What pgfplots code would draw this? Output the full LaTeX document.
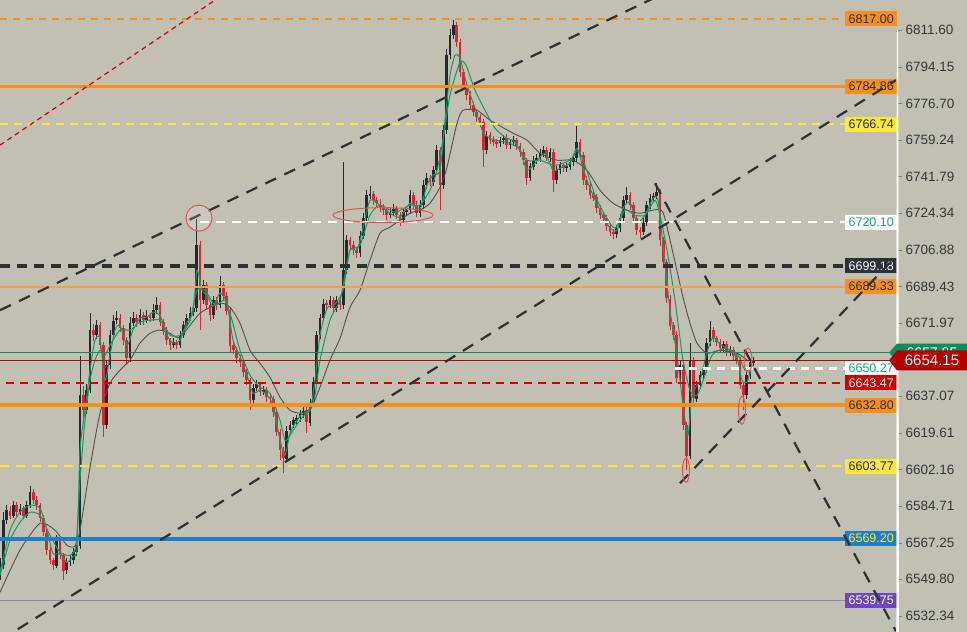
\documentclass[border=0pt]{standalone}
\usepackage{fontspec}
\setmainfont{Liberation Sans}
\usepackage{pgfplots}
\usepackage{pgfplotstable}
\pgfplotsset{compat=1.18}

\definecolor{bg}{RGB}{194,192,178}
\definecolor{cdark}{RGB}{38,42,46}
\definecolor{cred}{RGB}{214,40,52}
\definecolor{magreen}{RGB}{30,150,100}
\definecolor{magray}{RGB}{80,80,80}
\definecolor{lorange}{RGB}{248,144,24}
\definecolor{lorange2}{RGB}{233,162,78}
\definecolor{lyellow}{RGB}{255,232,56}
\definecolor{ldark}{RGB}{43,49,55}
\definecolor{lgreen}{RGB}{14,140,92}
\definecolor{lred}{RGB}{180,0,0}
\definecolor{lred2}{RGB}{208,0,0}
\definecolor{lblue}{RGB}{30,127,198}
\definecolor{lpurple}{RGB}{154,124,198}
\definecolor{bpurple}{RGB}{110,68,192}
\definecolor{tgreen}{RGB}{21,163,122}
\definecolor{tickc}{RGB}{50,54,60}
\definecolor{ell}{RGB}{224,85,85}

% bar index, open, high, low, close
\pgfplotstableread{
x o h l c
0 6551.7 6559.8 6549.4 6556.5
1 6556.5 6581.8 6554.6 6578.0
2 6578.0 6585.1 6576.0 6582.7
3 6582.7 6585.0 6578.5 6580.3
4 6580.3 6587.0 6579.0 6585.1
5 6585.1 6586.5 6580.0 6581.8
6 6581.8 6585.5 6580.5 6583.7
7 6583.7 6585.0 6578.6 6580.3
8 6580.3 6587.3 6579.2 6585.1
9 6585.1 6594.6 6584.0 6591.3
10 6591.3 6592.8 6585.9 6587.5
11 6587.5 6589.5 6583.0 6585.1
12 6585.1 6586.3 6577.0 6578.9
13 6578.9 6580.5 6570.5 6572.2
14 6572.2 6573.8 6561.5 6563.7
15 6563.7 6565.0 6557.0 6558.9
16 6558.9 6560.2 6554.2 6556.5
17 6556.5 6571.0 6555.0 6568.4
18 6568.4 6570.0 6559.5 6561.3
19 6561.3 6562.5 6549.4 6554.1
20 6554.1 6560.0 6552.5 6557.9
21 6557.9 6561.5 6556.0 6558.9
22 6558.9 6565.0 6557.2 6562.7
23 6562.7 6568.3 6561.0 6566.0
24 6566.0 6656.6 6564.5 6637.6
25 6637.6 6642.0 6625.6 6630.4
26 6630.4 6643.0 6628.5 6640.0
27 6640.0 6676.7 6638.5 6668.6
28 6668.6 6671.5 6663.5 6666.2
29 6666.2 6673.5 6664.5 6670.9
30 6670.9 6672.5 6659.5 6661.4
31 6661.4 6663.0 6617.5 6623.3
32 6623.3 6654.5 6621.5 6651.9
33 6651.9 6668.5 6650.0 6666.2
34 6666.2 6676.0 6664.8 6673.3
35 6673.3 6677.8 6671.5 6674.3
36 6674.3 6676.0 6667.5 6669.5
37 6669.5 6671.0 6661.5 6663.8
38 6663.8 6665.5 6652.5 6655.2
39 6655.2 6675.0 6653.5 6671.9
40 6671.9 6677.5 6670.5 6674.3
41 6674.3 6676.5 6670.0 6672.4
42 6672.4 6678.5 6671.0 6675.7
43 6675.7 6677.5 6671.0 6673.3
44 6673.3 6678.0 6672.0 6675.2
45 6675.2 6677.0 6672.5 6674.3
46 6674.3 6681.0 6673.0 6678.1
47 6678.1 6684.3 6676.5 6680.5
48 6680.5 6682.0 6670.5 6672.4
49 6672.4 6674.0 6666.5 6668.6
50 6668.6 6670.0 6661.5 6663.8
51 6663.8 6665.0 6659.0 6661.4
52 6661.4 6665.0 6660.0 6662.8
53 6662.8 6664.0 6659.5 6661.4
54 6661.4 6668.5 6660.0 6666.2
55 6666.2 6673.0 6665.0 6670.9
56 6670.9 6676.5 6669.5 6674.3
57 6674.3 6679.5 6673.0 6677.1
58 6677.1 6681.0 6675.5 6679.0
59 6679.0 6721.5 6677.5 6709.1
60 6709.1 6711.0 6668.6 6682.9
61 6682.9 6692.5 6681.0 6690.0
62 6690.0 6691.5 6678.5 6680.5
63 6680.5 6682.0 6673.0 6675.7
64 6675.7 6685.0 6674.0 6682.9
65 6682.9 6684.5 6678.5 6680.5
66 6680.5 6694.3 6679.0 6690.0
67 6690.0 6691.5 6683.0 6685.2
68 6685.2 6687.0 6676.0 6678.1
69 6678.1 6679.5 6658.0 6661.4
70 6661.4 6663.0 6657.0 6659.0
71 6659.0 6660.5 6653.0 6655.2
72 6655.2 6657.0 6651.0 6653.3
73 6653.3 6655.0 6646.5 6648.5
74 6648.5 6650.0 6642.5 6644.7
75 6644.7 6646.0 6630.4 6635.2
76 6635.2 6643.0 6634.0 6640.9
77 6640.9 6645.0 6639.5 6642.8
78 6642.8 6644.0 6637.0 6639.0
79 6639.0 6642.0 6637.5 6640.0
80 6640.0 6641.5 6634.5 6636.6
81 6636.6 6638.5 6634.0 6636.1
82 6636.1 6637.5 6627.5 6629.5
83 6629.5 6631.0 6618.0 6619.9
84 6619.9 6621.5 6606.6 6611.3
85 6611.3 6613.0 6600.4 6607.5
86 6607.5 6623.0 6606.0 6620.9
87 6620.9 6625.5 6619.5 6623.3
88 6623.3 6627.5 6622.0 6625.6
89 6625.6 6628.5 6624.0 6626.6
90 6626.6 6630.5 6625.0 6628.5
91 6628.5 6632.5 6627.0 6630.4
92 6630.4 6632.0 6619.9 6624.7
93 6624.7 6636.0 6623.0 6634.2
94 6634.2 6646.0 6632.5 6643.8
95 6643.8 6668.5 6642.0 6666.2
96 6666.2 6676.5 6664.5 6674.3
97 6674.3 6683.5 6673.0 6681.4
98 6681.4 6683.0 6678.5 6680.5
99 6680.5 6685.0 6679.0 6682.9
100 6682.9 6684.5 6677.0 6679.0
101 6679.0 6685.0 6677.5 6682.9
102 6682.9 6684.5 6678.5 6680.5
103 6680.5 6748.7 6679.0 6697.2
104 6697.2 6714.0 6695.5 6711.5
105 6711.5 6713.0 6707.0 6709.1
106 6709.1 6711.0 6704.5 6706.7
107 6706.7 6708.5 6703.0 6705.3
108 6705.3 6716.0 6703.5 6713.4
109 6713.4 6724.5 6712.0 6722.0
110 6722.0 6735.5 6720.5 6732.9
111 6732.9 6737.5 6731.0 6733.4
112 6733.4 6735.0 6728.5 6730.5
113 6730.5 6732.0 6727.0 6729.1
114 6729.1 6731.0 6725.0 6727.2
115 6727.2 6729.0 6723.5 6725.8
116 6725.8 6727.5 6721.0 6723.4
117 6723.4 6727.0 6722.0 6724.8
118 6724.8 6729.0 6723.0 6726.7
119 6726.7 6728.0 6721.5 6723.4
120 6723.4 6725.0 6718.1 6721.0
121 6721.0 6727.0 6719.5 6724.8
122 6724.8 6728.0 6723.0 6725.8
123 6725.8 6735.5 6724.0 6732.9
124 6732.9 6734.5 6726.5 6728.2
125 6728.2 6730.0 6722.5 6724.3
126 6724.3 6730.5 6722.5 6728.2
127 6728.2 6740.0 6726.5 6737.7
128 6737.7 6743.5 6736.0 6741.0
129 6741.0 6742.5 6737.5 6739.1
130 6739.1 6747.0 6737.5 6744.8
131 6744.8 6757.0 6743.0 6754.4
132 6754.4 6756.0 6725.8 6737.7
133 6737.7 6766.5 6736.0 6763.9
134 6763.9 6802.5 6762.0 6799.7
135 6799.7 6812.0 6798.0 6809.2
136 6809.2 6816.4 6807.5 6814.0
137 6814.0 6815.5 6803.5 6805.9
138 6805.9 6807.5 6789.5 6791.6
139 6791.6 6793.0 6783.5 6785.4
140 6785.4 6787.0 6778.5 6780.6
141 6780.6 6782.5 6773.5 6775.8
142 6775.8 6777.5 6770.5 6772.5
143 6772.5 6774.0 6768.0 6770.1
144 6770.1 6772.0 6765.5 6767.7
145 6767.7 6769.5 6746.3 6754.4
146 6754.4 6763.5 6752.5 6761.5
147 6761.5 6763.0 6757.5 6759.2
148 6759.2 6761.0 6756.5 6758.2
149 6758.2 6760.0 6755.5 6757.7
150 6757.7 6761.0 6756.0 6759.2
151 6759.2 6762.0 6757.5 6760.1
152 6760.1 6762.0 6755.0 6756.8
153 6756.8 6760.0 6755.0 6758.2
154 6758.2 6761.0 6756.5 6759.2
155 6759.2 6760.5 6754.5 6756.3
156 6756.3 6758.0 6751.5 6753.4
157 6753.4 6755.0 6747.5 6749.6
158 6749.6 6751.0 6737.7 6741.0
159 6741.0 6748.5 6739.5 6746.7
160 6746.7 6751.5 6745.0 6749.6
161 6749.6 6752.5 6748.0 6750.6
162 6750.6 6755.0 6749.0 6752.9
163 6752.9 6756.5 6751.0 6754.4
164 6754.4 6756.0 6749.0 6750.6
165 6750.6 6755.5 6749.0 6753.4
166 6753.4 6755.0 6734.4 6740.1
167 6740.1 6747.0 6738.5 6744.8
168 6744.8 6749.0 6743.0 6747.2
169 6747.2 6748.5 6744.0 6745.8
170 6745.8 6748.5 6744.0 6746.7
171 6746.7 6750.5 6745.0 6748.7
172 6748.7 6752.5 6747.0 6750.6
173 6750.6 6766.3 6749.0 6758.2
174 6758.2 6760.0 6750.0 6752.0
175 6752.0 6753.5 6738.0 6740.1
176 6740.1 6742.0 6735.5 6737.7
177 6737.7 6739.5 6731.0 6732.9
178 6732.9 6735.0 6730.0 6731.9
179 6731.9 6733.5 6724.5 6726.7
180 6726.7 6728.5 6721.5 6723.4
181 6723.4 6725.0 6720.0 6722.0
182 6722.0 6723.5 6716.0 6718.1
183 6718.1 6720.0 6713.5 6715.3
184 6715.3 6717.0 6712.0 6714.3
185 6714.3 6719.0 6712.5 6717.2
186 6717.2 6724.0 6715.5 6722.0
187 6722.0 6732.5 6720.5 6730.5
188 6730.5 6736.7 6729.0 6732.9
189 6732.9 6734.5 6726.0 6728.2
190 6728.2 6730.0 6720.0 6722.0
191 6722.0 6723.5 6714.0 6716.2
192 6716.2 6718.0 6712.5 6715.3
193 6715.3 6722.0 6714.0 6720.0
194 6720.0 6730.0 6718.5 6728.2
195 6728.2 6733.5 6726.5 6731.5
196 6731.5 6734.0 6730.0 6732.4
197 6732.4 6738.6 6731.0 6734.4
198 6734.4 6736.0 6709.0 6711.5
199 6711.5 6713.0 6699.0 6701.0
200 6701.0 6702.5 6681.5 6683.8
201 6683.8 6685.5 6668.5 6670.9
202 6670.9 6672.5 6664.0 6666.2
203 6666.2 6668.0 6643.5 6645.7
204 6645.7 6654.0 6644.0 6651.9
205 6651.9 6653.5 6621.0 6623.3
206 6623.3 6625.0 6601.8 6608.9
207 6608.9 6662.4 6607.0 6654.3
208 6654.3 6656.0 6634.0 6636.1
209 6636.1 6644.5 6634.5 6642.3
210 6642.3 6649.0 6640.5 6647.1
211 6647.1 6651.5 6645.5 6649.5
212 6649.5 6665.0 6648.0 6662.8
213 6662.8 6673.3 6661.0 6668.6
214 6668.6 6670.0 6663.0 6664.7
215 6664.7 6666.0 6661.0 6662.8
216 6662.8 6664.5 6658.5 6660.0
217 6660.0 6663.5 6658.5 6661.9
218 6661.9 6663.5 6656.5 6658.1
219 6658.1 6661.0 6656.5 6659.0
220 6659.0 6660.5 6654.5 6656.2
221 6656.2 6658.0 6652.5 6654.3
222 6654.3 6656.0 6640.5 6642.3
223 6642.3 6644.0 6630.4 6637.6
224 6637.6 6649.0 6636.0 6647.1
225 6647.1 6655.0 6645.5 6653.3
226 6653.3 6656.0 6651.5 6654.15
}\candles

\newcommand{\plab}[4]{\node[fill=#2, text=#3, font=\fontsize{12.5}{13}\selectfont, minimum width=52pt, minimum height=15pt, inner sep=0pt, anchor=west] at (axis cs:253.5,#1) {#4};}

\begin{document}
\begin{tikzpicture}
\fill[bg] (0,0) rectangle (967pt,632pt);
\path[use as bounding box] (0,0) rectangle (967pt,632pt);
\begin{axis}[
    at={(0pt,0pt)}, anchor=south west,
    scale only axis,
    width=896pt, height=632pt,
    xmin=0, xmax=268.8,
    ymin=6524.6, ymax=6825.9,
    axis x line=none,
    axis y line*=right,
    y axis line style={draw=bg, line width=0.1pt},
    ytick={6532.34,6549.80,6567.25,6584.71,6602.16,6619.61,6637.07,6671.97,6689.43,6706.88,6724.34,6741.79,6759.24,6776.70,6794.15,6811.60},
    yticklabels={6532.34,6549.80,6567.25,6584.71,6602.16,6619.61,6637.07,6671.97,6689.43,6706.88,6724.34,6741.79,6759.24,6776.70,6794.15,6811.60},
    tick align=outside,
    major tick length=6pt,
    yticklabel style={font=\fontsize{13.5}{15}\selectfont, text=tickc, anchor=west, xshift=0pt},
    clip mode=individual,
]
% candle wicks
\addplot[draw=none, restrict expr to domain={\thisrow{c}-\thisrow{o}}{0:1000},
  error bars/.cd, y dir=both, y explicit, error mark=none,
  error bar style={draw=cdark, line width=1pt}]
  table[x=x, y expr={(\thisrow{h}+\thisrow{l})/2}, y error expr={(\thisrow{h}-\thisrow{l})/2}] {\candles};
\addplot[draw=none, restrict expr to domain={\thisrow{c}-\thisrow{o}}{-1000:0},
  error bars/.cd, y dir=both, y explicit, error mark=none,
  error bar style={draw=cred, line width=1pt}]
  table[x=x, y expr={(\thisrow{h}+\thisrow{l})/2}, y error expr={(\thisrow{h}-\thisrow{l})/2}] {\candles};
% candle bodies
\addplot[draw=none, restrict expr to domain={\thisrow{c}-\thisrow{o}}{0:1000},
  error bars/.cd, y dir=both, y explicit, error mark=none,
  error bar style={draw=cdark, line width=2.7pt}]
  table[x=x, y expr={(\thisrow{o}+\thisrow{c})/2}, y error expr={abs(\thisrow{c}-\thisrow{o})/2}] {\candles};
\addplot[draw=none, restrict expr to domain={\thisrow{c}-\thisrow{o}}{-1000:0},
  error bars/.cd, y dir=both, y explicit, error mark=none,
  error bar style={draw=cred, line width=2.7pt}]
  table[x=x, y expr={(\thisrow{o}+\thisrow{c})/2}, y error expr={abs(\thisrow{c}-\thisrow{o})/2}] {\candles};

% slow moving average
\addplot[magray, line width=0.9pt, smooth, tension=0.4] coordinates {
(0,6543.6)(6,6563.7)(12,6576.5)(16.5,6573.2)(20.1,6566.0)(22.5,6565.6)(24,6573.2)(27,6603.2)(30,6629.0)(33,6643.3)(36,6649.5)(39,6654.3)(42,6662.4)(45,6667.1)(48,6668.6)(51,6667.1)(54,6665.2)(60,6676.6)(66,6681.4)(69,6679.5)(72,6671.9)(75,6659.0)(78,6652.8)(81,6646.1)(84,6636.6)(87,6630.4)(90,6629.0)(93,6630.4)(96,6641.4)(99,6654.3)(102,6664.7)(105,6679.5)(108,6687.6)(111,6701.9)(114,6714.8)(117,6717.7)(123,6724.3)(126,6725.8)(129,6729.1)(132,6736.7)(134.1,6746.3)(137.1,6767.2)(138.9,6773.4)(143.1,6773.4)(147,6768.7)(153.9,6762.5)(158.1,6759.2)(162,6752.9)(167.1,6749.6)(171.9,6749.6)(176.1,6744.8)(180,6735.3)(183.9,6729.1)(188.1,6725.8)(192,6724.3)(195.9,6725.8)(198.9,6724.8)(201.9,6705.3)(204.9,6684.3)(207,6671.9)(209.1,6662.4)(212.1,6657.6)(216,6659.0)(221.1,6657.6)(224.1,6654.3)};
% medium moving average
\addplot[magreen, line width=1pt, smooth, tension=0.4] coordinates {
(0,6551.7)(3,6568.4)(6,6577.0)(9,6581.8)(12,6580.3)(15,6570.8)(18,6562.7)(21,6561.3)(22.8,6566.0)(24,6597.0)(25.5,6625.6)(27,6644.7)(28.5,6654.3)(30,6659.0)(31.5,6656.6)(33,6661.4)(36,6668.6)(39,6668.6)(42,6672.4)(45,6673.3)(48,6673.3)(51,6666.2)(54,6666.2)(57,6673.3)(59.1,6687.6)(61.5,6687.6)(64.5,6680.5)(67.5,6682.9)(69.6,6673.3)(72,6659.0)(75,6647.1)(78,6641.4)(81,6638.5)(84,6625.6)(85.5,6616.1)(87,6618.5)(90,6625.6)(93,6631.4)(94.5,6637.6)(96,6654.3)(99,6673.3)(102,6682.9)(103.5,6694.8)(105,6706.7)(108,6709.1)(111,6723.4)(114,6728.2)(118.5,6724.8)(123,6728.2)(126,6728.2)(129,6735.3)(131.1,6744.8)(132.9,6759.2)(135,6780.6)(138,6796.3)(139.8,6794.9)(142.5,6783.0)(145.5,6773.4)(148.5,6764.9)(151.5,6760.6)(154.5,6758.2)(158.1,6749.6)(162,6749.6)(166.5,6747.2)(171,6749.6)(173.4,6754.4)(175.5,6747.2)(178.5,6732.9)(181.5,6723.4)(184.5,6717.2)(187.5,6725.8)(190.5,6723.4)(193.5,6723.4)(196.5,6730.5)(198,6723.4)(200.1,6706.7)(202.5,6682.9)(204.9,6654.3)(207,6640.0)(209.1,6637.6)(211.5,6647.1)(213.6,6656.6)(217.5,6660.0)(221.4,6656.6)(223.5,6649.5)(225.6,6650.4)};
% fast moving average
\addplot[magreen, line width=1pt, smooth, tension=0.4] coordinates {
(0,6553.2)(3,6573.2)(6,6581.8)(9,6585.1)(12,6583.7)(14.1,6573.2)(15.9,6562.2)(18,6562.2)(20.1,6557.9)(21.9,6560.8)(23.1,6564.6)(24,6611.3)(25.5,6630.4)(27,6649.5)(28.5,6663.8)(30,6664.7)(31.5,6644.7)(33,6656.6)(34.5,6668.6)(36,6670.9)(38.1,6661.4)(39.9,6668.6)(42,6674.3)(44.1,6674.8)(45.9,6677.1)(48,6675.7)(50.1,6666.2)(51.9,6662.4)(54,6663.8)(56.1,6672.4)(57.9,6677.1)(59.1,6697.2)(60.6,6687.6)(62.1,6685.2)(63.9,6680.0)(66,6686.2)(68.1,6681.4)(69.9,6663.8)(72,6656.2)(74.1,6647.1)(75.9,6638.5)(78,6640.0)(80.1,6637.6)(81.9,6632.8)(84,6616.1)(85.5,6608.9)(87,6619.4)(89.1,6625.6)(90.9,6629.0)(93,6630.4)(94.5,6644.7)(96,6666.2)(98.1,6679.0)(100.5,6681.0)(102.9,6687.6)(105,6706.7)(107.1,6706.7)(108.9,6717.2)(111,6730.5)(114,6728.2)(117,6724.3)(120,6722.4)(123,6729.1)(126,6726.7)(128.1,6737.7)(129.9,6742.5)(132,6744.8)(133.5,6768.7)(135,6790.1)(136.5,6799.7)(138,6798.2)(140.1,6785.4)(142.5,6774.4)(144.9,6763.0)(147,6760.1)(150,6758.7)(153,6757.7)(156,6754.4)(158.1,6744.8)(160.5,6748.2)(163.5,6752.9)(165.9,6744.8)(168,6745.8)(171,6748.2)(173.1,6755.3)(174.9,6745.8)(177,6736.3)(180,6725.8)(183,6717.2)(185.1,6716.2)(186.9,6726.7)(189,6729.6)(191.1,6720.0)(193.5,6723.4)(195.9,6731.5)(197.4,6730.5)(198.9,6709.1)(201,6678.1)(203.1,6656.6)(204.9,6632.8)(206.4,6618.5)(207.6,6637.6)(210,6644.7)(212.1,6658.1)(213.9,6665.2)(216,6661.9)(219,6659.0)(221.1,6655.7)(222.6,6644.7)(224.1,6643.8)(225.6,6651.9)};

% horizontal levels
\addplot[lorange, line width=1.6pt, dash pattern=on 7pt off 6pt] coordinates {(0,6817.00)(268.8,6817.00)};
\addplot[lorange, line width=3.5pt] coordinates {(0,6784.86)(268.8,6784.86)};
\addplot[lyellow, line width=2pt, dash pattern=on 8pt off 6pt] coordinates {(0,6766.74)(268.8,6766.74)};
\addplot[white, line width=2.2pt, dash pattern=on 9pt off 7pt] coordinates {(60,6720.10)(268.8,6720.10)};
\addplot[ldark, line width=4pt, dash pattern=on 10pt off 7pt] coordinates {(0,6699.18)(268.8,6699.18)};
\addplot[lorange2, line width=1.8pt] coordinates {(0,6689.33)(268.8,6689.33)};
\addplot[lgreen, line width=1.2pt] coordinates {(0,6657.85)(268.8,6657.85)};
\addplot[lred, line width=1.2pt] coordinates {(0,6654.15)(268.8,6654.15)};
\addplot[white, line width=2.2pt, dash pattern=on 8pt off 6pt] coordinates {(202.5,6650.27)(268.8,6650.27)};
\addplot[lred2, line width=2.6pt, dash pattern=on 8pt off 6pt] coordinates {(1.8,6643.47)(268.8,6643.47)};
\addplot[lorange, line width=4pt] coordinates {(0,6632.80)(268.8,6632.80)};
\addplot[lyellow, line width=2.4pt, dash pattern=on 9pt off 7pt] coordinates {(0,6603.77)(268.8,6603.77)};
\addplot[lblue, line width=4pt] coordinates {(0,6569.20)(268.8,6569.20)};
\addplot[lpurple, line width=1.5pt] coordinates {(0,6539.75)(268.8,6539.75)};

% level labels
\plab{6817.00}{lorange}{cdark}{6817.00}
\plab{6784.86}{lorange}{cdark}{6784.86}
\plab{6766.74}{lyellow}{cdark}{6766.74}
\plab{6720.10}{white}{tgreen}{6720.10}
\plab{6699.18}{ldark}{white}{6699.18}
\plab{6689.33}{lorange}{cdark}{6689.33}
\plab{6650.27}{white}{tgreen}{6650.27}
\plab{6643.47}{lred2}{white}{6643.47}
\plab{6632.80}{lorange}{cdark}{6632.80}
\plab{6603.77}{lyellow}{cdark}{6603.77}
\plab{6569.20}{lblue}{lyellow}{6569.20}
\plab{6539.75}{bpurple}{white}{6539.75}

% trend lines
\addplot[lred2, line width=1.2pt, dash pattern=on 5pt off 4pt] coordinates {(0,6756.8)(70,6831.8)};
\addplot[ldark, line width=2.2pt, dash pattern=on 12pt off 9pt] coordinates {(0,6678.1)(200,6829.8)};
\addplot[ldark, line width=2.2pt, dash pattern=on 12pt off 9pt] coordinates {(0,6520.7)(268.8,6787.8)};
\addplot[ldark, line width=2.2pt, dash pattern=on 12pt off 9pt] coordinates {(204,6595.6)(268.8,6703.8)};
\addplot[ldark, line width=2.2pt, dash pattern=on 12pt off 9pt] coordinates {(196.5,6738.6)(268.8,6525.0)};

% marked spots
\draw[ell, line width=1pt, fill=white, fill opacity=0.15] (axis cs:59.7,6722.0) circle[radius=13pt];
\draw[ell, line width=1pt] (axis cs:114.9,6723.4) ellipse[x radius=50pt, y radius=7.5pt];
\draw[ell, line width=1pt] (axis cs:205.8,6601.8) ellipse[x radius=3.5pt, y radius=12pt];
\draw[ell, line width=1pt] (axis cs:222.6,6630.4) ellipse[x radius=3.5pt, y radius=14pt];
\draw[ell, line width=1pt] (axis cs:224.4,6654.3) ellipse[x radius=4pt, y radius=12pt];

% price-scale tick marks
\pgfplotsinvokeforeach{6532.34,6549.80,6567.25,6584.71,6602.16,6619.61,6637.07,6671.97,6689.43,6706.88,6724.34,6741.79,6759.24,6776.70,6794.15,6811.60}{
  \draw[white, line width=1.2pt] ([xshift=1.5pt]axis cs:268.8,#1) -- ++(5pt,0);
}

% last price tags
\path (axis cs:268.8,6657.85) coordinate (G);
\fill[lgreen] ([xshift=-7pt]G) -- ([xshift=1pt,yshift=9pt]G) -- ([xshift=71pt,yshift=9pt]G) -- ([xshift=71pt,yshift=-9pt]G) -- ([xshift=1pt,yshift=-9pt]G) -- cycle;
\node[white, font=\fontsize{14}{15}\selectfont] at ([xshift=36pt]G) {6657.85};
\path (axis cs:268.8,6654.15) coordinate (R);
\fill[lred] ([xshift=-7pt]R) -- ([xshift=1pt,yshift=10pt]R) -- ([xshift=71pt,yshift=10pt]R) -- ([xshift=71pt,yshift=-10pt]R) -- ([xshift=1pt,yshift=-10pt]R) -- cycle;
\node[white, font=\fontsize{15}{16}\selectfont] at ([xshift=36pt]R) {6654.15};
\end{axis}
\end{tikzpicture}
\end{document}
